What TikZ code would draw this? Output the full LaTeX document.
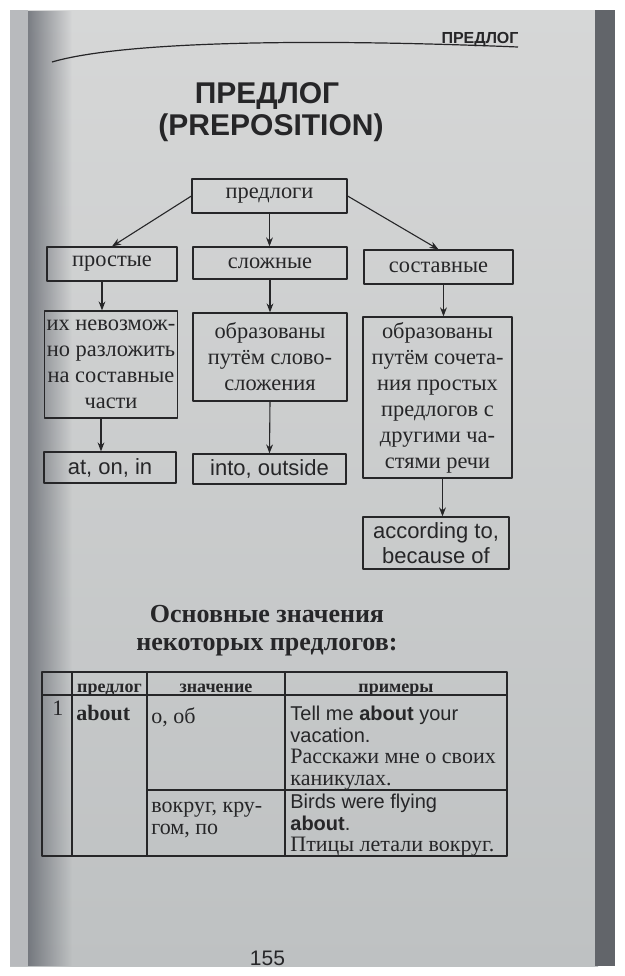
\documentclass[tikz,border=0pt]{standalone}
\usepackage{fontspec}
\setmainfont{Liberation Serif}
\newfontfamily\booksans{Liberation Sans}
\usetikzlibrary{arrows.meta,positioning,fadings}
\definecolor{ink}{RGB}{38,38,40}
\definecolor{papertop}{RGB}{214,215,215}
\definecolor{paperbot}{RGB}{190,193,194}
\definecolor{shadow}{RGB}{92,96,104}
\definecolor{leftpage}{RGB}{184,186,189}
\definecolor{spine}{RGB}{98,101,106}

\begin{document}
\begin{tikzpicture}[x=0.5pt,y=-0.5pt,line join=round,
    pbox/.style={draw=ink,line width=0.6pt,inner sep=1pt,align=center,text=ink,
      font=\fontsize{11.2}{13}\selectfont},
    sbox/.style={pbox,font=\booksans\fontsize{11}{12.5}\selectfont},
    arr/.style={draw=ink,line width=0.55pt,-{Stealth[length=4.5pt,width=3.4pt]}},
    ttl/.style={text=ink,inner sep=0pt,font=\booksans\bfseries\fontsize{15}{16}\selectfont},
    hd/.style={text=ink,inner sep=0pt,anchor=base,font=\bfseries\fontsize{9}{10}\selectfont},
    cellt/.style={text=ink,inner sep=0pt,align=left,font=\fontsize{11}{10.8}\selectfont},
    rule/.style={draw=ink,line width=0.6pt}]
  % page of the photo
  \useasboundingbox (0,0) rectangle (625,976);
  \fill[white] (0,0) rectangle (625,976);
  \shade[top color=papertop,bottom color=paperbot] (10,10) rectangle (598,966);
  \fill[leftpage] (10,10) rectangle (28,966);
  \fill[shadow,path fading=east,opacity=0.75] (28,10) rectangle (72,966);
  \fill[spine] (595,10) rectangle (615,966);

  % running head
  \node[text=ink,font=\booksans\bfseries\fontsize{8}{9}\selectfont,anchor=base] (head) at (480,43) {ПРЕДЛОГ};
  \draw[rule] (52,62) .. controls (120,42) and (300,38) .. (518,47);

  % title
  \node[ttl,anchor=base] (ttla) at (267,103) {ПРЕДЛОГ};
  \node[ttl,anchor=base] (ttlb) at (271,135) {(PREPOSITION)};

  % scheme
  \node[pbox,minimum width=77.5pt,minimum height=17pt] (prep) at (269.5,196) {предлоги};
  \node[pbox,minimum width=65pt,minimum height=17pt] (simple) at (112,264) {простые};
  \node[pbox,minimum width=77pt,minimum height=16pt] (compound) at (270,263) {сложные};
  \node[pbox,minimum width=74.5pt,minimum height=17pt] (composite) at (438.5,267) {составные};
  \node[pbox,minimum width=66pt,minimum height=53.5pt] (simpledef) at (111,364.5)
    {их невозмож-\\но разложить\\на составные\\части};
  \node[pbox,minimum width=77pt,minimum height=44pt] (compdef) at (270,357)
    {образованы\\путём слово-\\сложения};
  \node[pbox,minimum width=74.5pt,minimum height=80.5pt] (compodef) at (437.5,397.5)
    {образованы\\путём сочета-\\ния простых\\предлогов с\\другими ча-\\стями речи};
  \node[sbox,minimum width=66pt,minimum height=15.5pt] (simpleex) at (110,467.5) {at, on, in};
  \node[sbox,minimum width=76.5pt,minimum height=15pt] (compex) at (269.5,469) {into, outside};
  \node[sbox,minimum width=73pt,minimum height=26pt] (compoex) at (436,543) {according to,\\because of};

  \draw[arr] (prep.west) -- (simple.north);
  \draw[arr] (prep.south) -- (prep.south |- compound.north);
  \draw[arr] (prep.east) -- (composite.north);
  \draw[arr] ([xshift=-5pt]simple.south) -- ([xshift=-5pt]simple.south |- simpledef.north);
  \draw[arr] ([xshift=-5pt]simpledef.south) -- ([xshift=-5pt]simpledef.south |- simpleex.north);
  \draw[arr] (compound.south) -- (compdef.north);
  \draw[arr] (compdef.south) -- (compex.north);
  \draw[arr] ([xshift=2.5pt]composite.south) -- ([xshift=2.5pt]composite.south |- compodef.north);
  \draw[arr] ([xshift=2.5pt]compodef.south) -- ([xshift=2.5pt]compodef.south |- compoex.north);

  % table
  \node[text=ink,align=center,font=\bfseries\fontsize{13}{14}\selectfont] (subttl) at (267,631)
    {Основные значения\\некоторых предлогов:};
  \draw[rule] (42,672) rectangle (507,856);
  \draw[rule] (42,695) -- (507,695);
  \draw[rule] (147,790) -- (507,790);
  \foreach \cx in {72,147,285} \draw[rule] (\cx,672) -- (\cx,856);
  \node[hd] (hprep) at (109.5,692) {предлог};
  \node[hd] (hmean) at (216,692) {значение};
  \node[hd] (hex) at (396,692) {примеры};
  \node[cellt,anchor=base west] (num) at (52,715) {1};
  \node[cellt,anchor=base west,font=\bfseries\fontsize{11}{10.8}\selectfont] (about) at (76,720) {about};
  \node[cellt,anchor=base west] (mean1) at (151,723) {о, об};
  \node[cellt,anchor=north west] (ex1) at (290,705.5)
    {{\booksans\fontsize{10}{10.8}\selectfont Tell me \textbf{about} your}\\
     {\booksans\fontsize{10}{10.8}\selectfont vacation.}\\
     Расскажи мне о своих\\каникулах.};
  \node[cellt,anchor=north west] (mean2) at (151,802) {вокруг, кру-\\гом, по};
  \node[cellt,anchor=north west] (ex2) at (290,793.5)
    {{\booksans\fontsize{10}{10.8}\selectfont Birds were flying}\\
     {\booksans\fontsize{10}{10.8}\selectfont\bfseries about}{\booksans\fontsize{10}{10.8}\selectfont .}\\
     Птицы летали вокруг.};

  % page number
  \node[text=ink,inner sep=0pt,anchor=base,font=\booksans\fontsize{10.5}{11}\selectfont] (pgno) at (267.5,965) {155};
\end{tikzpicture}
\end{document}
